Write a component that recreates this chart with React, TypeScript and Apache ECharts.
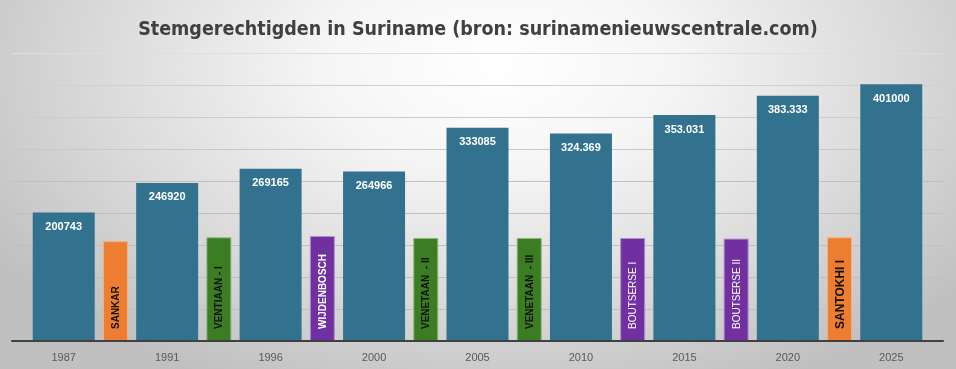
import React, { useEffect, useRef } from "react";
import * as echarts from "echarts";

const years = ["1987", "1991", "1996", "2000", "2005", "2010", "2015", "2020", "2025"];
const voters = [200743, 246920, 269165, 264966, 333085, 324369, 353031, 383333, 401000];
const voterLabels = ["200743", "246920", "269165", "264966", "333085", "324.369", "353.031", "383.333", "401000"];

const govNames = ["SANKAR", "VENTIAAN - I", "WIJDENBOSCH", "VENETAAN  - II", "VENETAAN  - III", "BOUTSERSE I", "BOUTSERSE II", "SANTOKHI I"];
const govValues = [156000, 162000, 164000, 161000, 161000, 161000, 160000, 162000];
const govColors = ["#ED7D31", "#3B7D23", "#7030A0", "#3B7D23", "#3B7D23", "#7030A0", "#7030A0", "#ED7D31"];
const govBorders = ["#F4B183", "#8DB87A", "#B08FCB", "#8DB87A", "#8DB87A", "#B08FCB", "#B08FCB", "#F4B183"];
const govTextColors = ["#111111", "#111111", "#ffffff", "#111111", "#111111", "#ffffff", "#ffffff", "#111111"];
const govTextWeights = ["bold", "bold", "bold", "bold", "bold", "normal", "normal", "bold"];
const govTextSizes = [10, 10, 10, 10, 10, 10, 10, 12];

const boundaryPoints = ["b0", "b1", "b2", "b3", "b4", "b5", "b6", "b7", "b8", "b9"];

const TITLE = "Stemgerechtigden in Suriname (bron: surinamenieuwscentrale.com)";
const NARROW = "'Liberation Sans Narrow', 'DejaVu Sans Condensed', 'Liberation Sans', sans-serif";
const SANS = "'Liberation Sans', Arial, sans-serif";

export default function App() {
  const ref = useRef<HTMLDivElement>(null);
  useEffect(() => {
    if (!ref.current) return;
    const chart = echarts.init(ref.current, undefined, { renderer: "svg" });
    const govData: any[] = ["-"];
    govValues.forEach((v, i) => {
      govData.push({
        value: v,
        name: govNames[i],
        itemStyle: { color: govColors[i], borderColor: govBorders[i], borderWidth: 1 },
        label: {
          color: govTextColors[i],
          fontWeight: govTextWeights[i],
          fontSize: govTextSizes[i],
        },
      });
    });
    govData.push("-");
    const splitColors = ["#bfbfbf", "#bfbfbf", "#bfbfbf", "#bfbfbf", "#bfbfbf", "#bfbfbf", "#c8c8c8", "#cccccc", "#d0d0d0", "#dedede"];
    chart.setOption({
      animation: false,
      backgroundColor: "transparent",
      title: {
        text: TITLE,
        left: "center",
        top: 13,
        textStyle: { fontFamily: NARROW, fontWeight: "bold", fontSize: 19.5, color: "#404040" },
      },
      grid: { left: 12, right: 13, top: 53, bottom: 28, containLabel: false },
      xAxis: [
        {
          type: "category",
          data: years,
          axisLine: { show: true, lineStyle: { color: "#404040", width: 2 } },
          axisTick: { show: false },
          axisLabel: { color: "#595959", fontSize: 11, fontFamily: SANS, margin: 10 },
          z: 10,
        },
        {
          type: "category",
          data: boundaryPoints,
          boundaryGap: false,
          show: false,
        },
      ],
      yAxis: {
        type: "value",
        min: 0,
        max: 450000,
        interval: 50000,
        axisLabel: { show: false },
        axisLine: { show: false },
        axisTick: { show: false },
        splitLine: { show: true, lineStyle: { color: splitColors, width: 1 } },
      },
      series: [
        {
          type: "bar",
          xAxisIndex: 0,
          data: voters,
          barWidth: 62,
          itemStyle: { color: "#33728F" },
          label: {
            show: true,
            position: "insideTop",
            distance: 8,
            color: "#ffffff",
            fontWeight: "bold",
            fontSize: 11,
            fontFamily: SANS,
            formatter: (p: any) => voterLabels[p.dataIndex],
          },
        },
        {
          type: "bar",
          xAxisIndex: 1,
          data: govData,
          barWidth: 25,
          label: {
            show: true,
            position: "insideBottom",
            rotate: 90,
            align: "left",
            verticalAlign: "middle",
            distance: 12,
            fontFamily: SANS,
            formatter: (p: any) => p.name,
          },
        },
      ],
    });
    return () => chart.dispose();
  }, []);
  return (
    <div
      style={{
        position: "fixed",
        left: 0,
        top: 0,
        width: 956,
        height: 369,
        background:
          "radial-gradient(ellipse 62% 95% at 52% 18%, #ffffff 0%, #f5f5f5 30%, #d8d8d8 70%, #c0c0c0 100%)",
      }}
    >
      <div ref={ref} style={{ width: 956, height: 369 }} />
    </div>
  );
}
